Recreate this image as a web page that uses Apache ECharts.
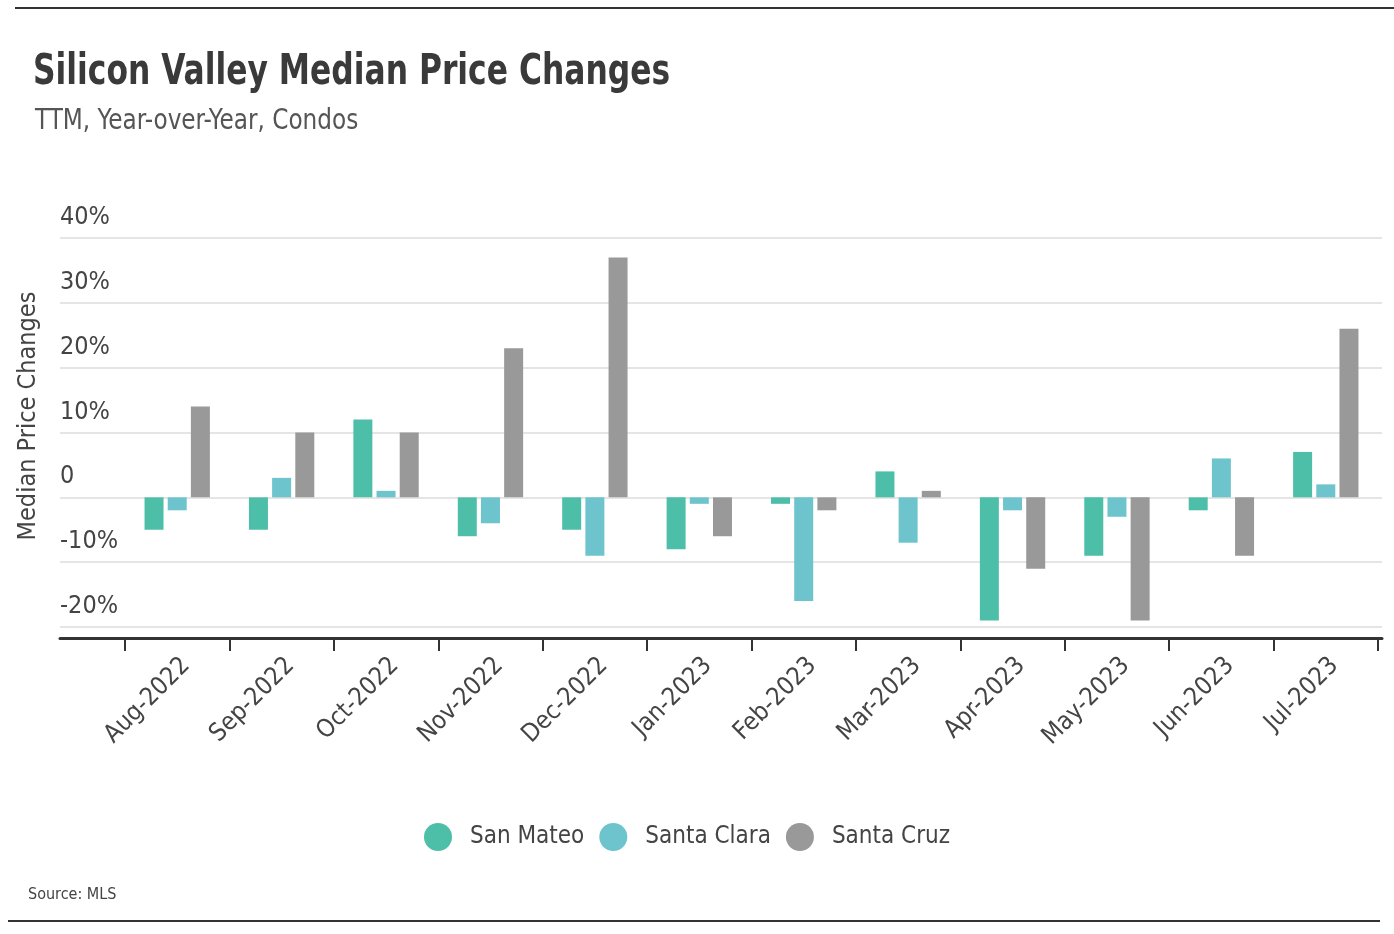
<!DOCTYPE html>
<html>
<head>
<meta charset="utf-8">
<script src="https://cdn.jsdelivr.net/npm/echarts@6/dist/echarts.min.js"></script>
<style>
html,body{margin:0;padding:0;background:#fff;}
#chart{width:1394px;height:934px;}
</style>
</head>
<body>
<div id="chart"></div>
<script>
const categories = ['Aug-2022','Sep-2022','Oct-2022','Nov-2022','Dec-2022','Jan-2023','Feb-2023','Mar-2023','Apr-2023','May-2023','Jun-2023','Jul-2023'];
const sanMateo   = [-5, -5, 12, -6, -5, -8, -1, 4, -19, -9, -2, 7];
const santaClara = [-2, 3, 1, -4, -9, -1, -16, -7, -2, -3, 6, 2];
const santaCruz  = [14, 10, 10, 23, 37, -6, -2, 1, -11, -19, -9, 26];
const yTicks = [-20, -10, 0, 10, 20, 30, 40];

const FONT = '"DejaVu Sans Condensed", "Liberation Sans Narrow", "Roboto", sans-serif';
const chart = echarts.init(document.getElementById('chart'));
const TOP = 238, BOTTOM = 307;
chart.setOption({
  backgroundColor: '#fff',
  animation: false,
  textStyle: { fontFamily: FONT },
  title: [
    { text: 'Source: MLS', left: 23, top: 882,
      textStyle: { fontFamily: FONT, fontSize: 16, fontWeight: 'normal', color: '#444' } }
  ],
  legend: {
    data: ['San Mateo', 'Santa Clara', 'Santa Cruz'],
    left: 419, top: 818, icon: 'circle', itemWidth: 28, itemHeight: 28, itemGap: 15,
    textStyle: { fontFamily: FONT, fontSize: 24, color: '#444', padding: [0, 0, 0, 13] }
  },
  graphic: [
    { type: 'line', shape: { x1: 15, y1: 8, x2: 1394, y2: 8 }, style: { stroke: '#333', lineWidth: 2 } },
    { type: 'line', shape: { x1: 8, y1: 921, x2: 1380, y2: 921 }, style: { stroke: '#333', lineWidth: 2 } },
    { type: 'text', x: 33, y: 52, scaleX: 0.83,
      style: { text: 'Silicon Valley Median Price Changes', font: 'bold 42px ' + FONT, fill: '#3a3a3a' } },
    { type: 'text', x: 35, y: 108, scaleX: 0.92,
      style: { text: 'TTM, Year-over-Year, Condos', font: '28px ' + FONT, fill: '#555' } },
    { type: 'text', x: 28, y: 416, rotation: Math.PI / 2,
      style: { text: 'Median Price Changes', font: '25px ' + FONT, fill: '#444', align: 'center', verticalAlign: 'middle' } }
  ],
  grid: [
    { left: 60, right: 12, top: TOP, bottom: BOTTOM },
    { left: 125, right: 16, top: TOP, bottom: BOTTOM }
  ],
  xAxis: [
    { type: 'value', gridIndex: 0, min: 0, max: 1, offset: 11,
      axisLine: { show: true, onZero: false, lineStyle: { color: '#333', width: 3 } },
      axisTick: { show: false }, axisLabel: { show: false }, splitLine: { show: false } },
    { type: 'category', gridIndex: 1, data: categories, offset: 11,
      axisLine: { show: false, onZero: false },
      axisTick: { show: true, alignWithLabel: false, length: 13, lineStyle: { color: '#333', width: 2 } },
      axisLabel: { rotate: 45, margin: 15, verticalAlign: 'top', fontFamily: FONT, fontSize: 25, color: '#444', interval: 0 },
      splitLine: { show: false } }
  ],
  yAxis: [
    { type: 'value', gridIndex: 0, min: -20, max: 40, interval: 10,
      axisLine: { show: false }, axisTick: { show: false },
      axisLabel: { inside: true, margin: 0, verticalAlign: 'bottom', padding: [0, 0, 8, 0],
        fontFamily: FONT, fontSize: 25, color: '#444',
        formatter: v => yTicks.includes(v) ? (v === 0 ? '0' : v + '%') : '' },
      splitLine: { show: true, lineStyle: { color: '#dcdcdc', width: 1.5 } } },
    { type: 'value', gridIndex: 1, min: -20, max: 40, interval: 10,
      axisLine: { show: false }, axisTick: { show: false }, axisLabel: { show: false },
      splitLine: { show: false } }
  ],
  series: [
    { name: 'San Mateo', type: 'bar', xAxisIndex: 1, yAxisIndex: 1, data: sanMateo,
      barWidth: 19, barGap: '22%', itemStyle: { color: '#4dbfa9' } },
    { name: 'Santa Clara', type: 'bar', xAxisIndex: 1, yAxisIndex: 1, data: santaClara,
      barWidth: 19, barGap: '22%', itemStyle: { color: '#6dc4cd' } },
    { name: 'Santa Cruz', type: 'bar', xAxisIndex: 1, yAxisIndex: 1, data: santaCruz,
      barWidth: 19, barGap: '22%', itemStyle: { color: '#999999' } }
  ]
});
</script>
</body>
</html>
